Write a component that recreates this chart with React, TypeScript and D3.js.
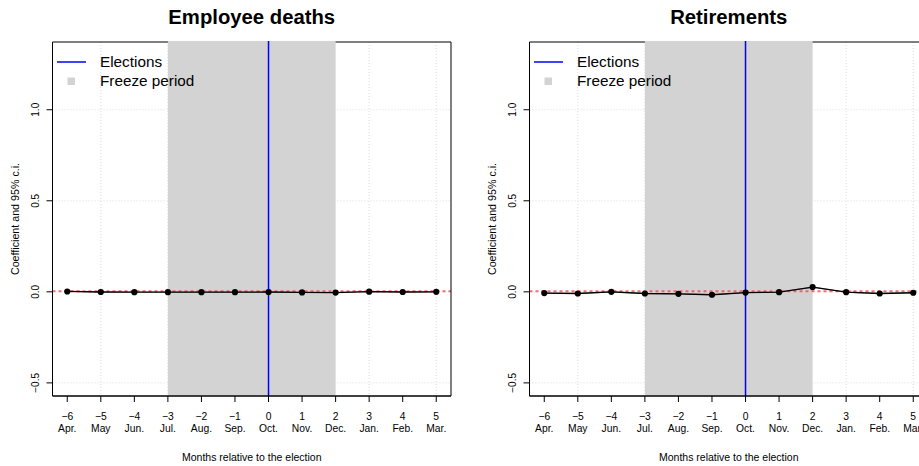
import React from "react";
import * as d3 from "d3";

// Event-study estimates, months relative to the election
const months = [-6, -5, -4, -3, -2, -1, 0, 1, 2, 3, 4, 5];
const monthNames = ["Apr.", "May", "Jun.", "Jul.", "Aug.", "Sep.", "Oct.", "Nov.", "Dec.", "Jan.", "Feb.", "Mar."];
const deathsCoef = [0.002, -0.001, -0.002, -0.002, -0.002, -0.002, -0.001, -0.003, -0.004, 0.001, -0.001, 0.0];
const deathsHalfCI = [0.002, 0.002, 0.002, 0.002, 0.002, 0.002, 0.002, 0.002, 0.003, 0.002, 0.002, 0.002];
const retireCoef = [-0.007, -0.009, 0.0, -0.009, -0.011, -0.016, -0.004, -0.002, 0.026, -0.002, -0.009, -0.005];
const retireHalfCI = [0.003, 0.003, 0.003, 0.003, 0.003, 0.003, 0.003, 0.003, 0.003, 0.003, 0.003, 0.003];
const yTicks = [-0.5, 0.0, 0.5, 1.0];
const xGrid = [-5, -3, -1, 1, 3, 5];
const freezeStart = -3;
const freezeEnd = 2;
const electionMonth = 0;

const panels = [
  { title: "Employee deaths", coef: deathsCoef, half: deathsHalfCI, dx: 0 },
  { title: "Retirements", coef: retireCoef, half: retireHalfCI, dx: 477 },
];

const FONT = "'Liberation Sans', Arial, Helvetica, sans-serif";
const left = 52.5, right = 451, top = 42, bottom = 396;

function HText({ x, y, size, anchor = "start", weight = "normal", children }: any) {
  return (
    <text x={x} y={y} textAnchor={anchor} fontFamily={FONT} fontWeight={weight} fontSize={size} fill="#000">
      {children}
    </text>
  );
}

function VText({ x, y, size, children }: any) {
  return (
    <text transform={`translate(${x},${y}) rotate(-90)`} textAnchor="middle" fontFamily={FONT} fontSize={size} fill="#000">
      {children}
    </text>
  );
}

function Panel({ title, coef, half, dx }: { title: string; coef: number[]; half: number[]; dx: number }) {
  const x = d3.scaleLinear().domain([-6.44, 5.44]).range([left, right]);
  const y = d3.scaleLinear().domain([-0.572, 1.372]).range([bottom, top]);
  const line = d3.line<number>().x((_, i) => x(months[i])).y((d) => y(d));
  const band = d3
    .area<number>()
    .x((_, i) => x(months[i]))
    .y0((d, i) => y(d - half[i]))
    .y1((d, i) => y(d + half[i]));
  const cx = (left + right) / 2;
  return (
    <g transform={`translate(${dx},0)`}>
      <HText x={cx} y={24} size={20.3} anchor="middle" weight="bold">
        {title}
      </HText>
      {/* grid */}
      {xGrid.map((v) => (
        <line key={"gx" + v} x1={x(v)} x2={x(v)} y1={top} y2={bottom} stroke="#d3d3d3" strokeWidth={0.8} strokeDasharray="1,2" />
      ))}
      {yTicks.map((v) => (
        <line key={"gy" + v} x1={left} x2={right} y1={y(v)} y2={y(v)} stroke="#d3d3d3" strokeWidth={0.8} strokeDasharray="1,2" />
      ))}
      <line x1={left} x2={right} y1={top} y2={top} stroke="#000" strokeWidth={1} />
      {/* freeze period */}
      <rect x={x(freezeStart)} y={top - 1} width={x(freezeEnd) - x(freezeStart)} height={bottom - top + 0.5} fill="#d3d3d3" />
      <line x1={left} x2={right} y1={y(0) - 0.5} y2={y(0) - 0.5} stroke="rgba(255,70,70,0.8)" strokeWidth={2} strokeDasharray="3,3" />
      <line x1={x(electionMonth)} x2={x(electionMonth)} y1={top - 1} y2={bottom} stroke="#0000ff" strokeWidth={1.5} />
      <path d={band(coef) || ""} fill="rgba(80,80,80,0.6)" />
      <path d={line(coef) || ""} fill="none" stroke="#000" strokeWidth={1.3} />
      {coef.map((v, i) => (
        <circle key={"p" + i} cx={x(months[i])} cy={y(v)} r={3.1} fill="#000" />
      ))}
      {/* frame */}
      <line x1={left} x2={left} y1={top} y2={bottom} stroke="#000" strokeWidth={1} />
      <line x1={right} x2={right} y1={top} y2={bottom} stroke="#000" strokeWidth={1} />
      <line x1={left} x2={right} y1={bottom} y2={bottom} stroke="#000" strokeWidth={1.3} />
      {/* y axis */}
      {yTicks.map((v) => (
        <g key={"yt" + v}>
          <line x1={left - 6} x2={left} y1={y(v)} y2={y(v)} stroke="#000" strokeWidth={1} />
          <VText x={39} y={y(v)} size={10}>
            {d3.format(".1f")(v).replace("-", "\u2212")}
          </VText>
        </g>
      ))}
      <VText x={19} y={(top + bottom) / 2} size={10.7}>
        Coefficient and 95% c.i.
      </VText>
      {/* x axis */}
      {months.map((m, i) => (
        <g key={"xt" + m}>
          <line x1={x(m)} x2={x(m)} y1={bottom} y2={bottom + 6} stroke="#000" strokeWidth={1} />
          <HText x={x(m)} y={419.5} size={10.3} anchor="middle">
            {String(m).replace("-", "\u2212")}
          </HText>
          <HText x={x(m)} y={432} size={10.3} anchor="middle">
            {monthNames[i]}
          </HText>
        </g>
      ))}
      <HText x={cx} y={460.5} size={10.5} anchor="middle">
        Months relative to the election
      </HText>
      {/* legend */}
      <line x1={57} x2={86} y1={62} y2={62} stroke="#0000ff" strokeWidth={1.5} />
      <HText x={100} y={66.8} size={15.3}>Elections</HText>
      <rect x={67.5} y={77.5} width={7.5} height={7.5} fill="#d3d3d3" />
      <HText x={100} y={85.8} size={15.3}>Freeze period</HText>
    </g>
  );
}

export default function App() {
  return (
    <svg width={919} height={466} style={{ position: "absolute", left: 0, top: 0, background: "#fff" }}>
      <rect width={919} height={466} fill="#fff" />
      {panels.map((p) => (
        <Panel key={p.title} {...p} />
      ))}
    </svg>
  );
}
